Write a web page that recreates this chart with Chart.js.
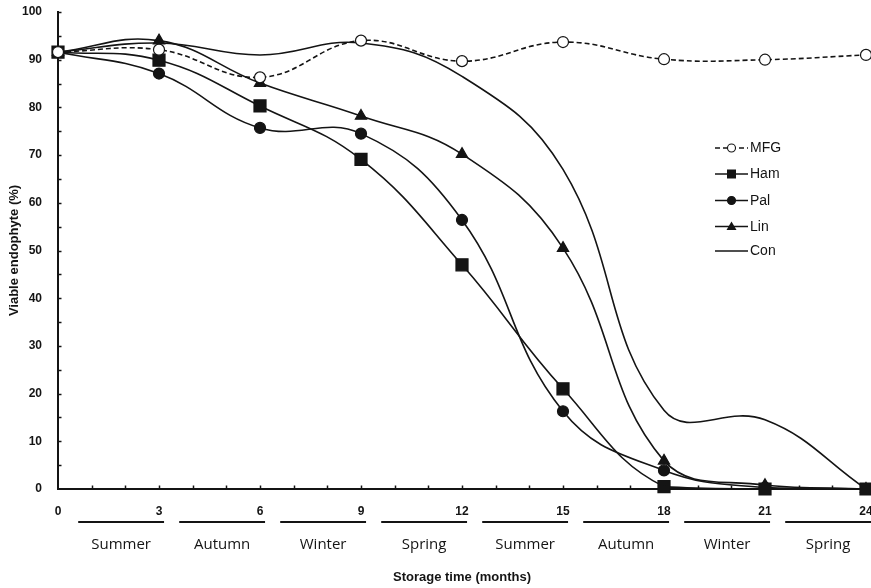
<!DOCTYPE html>
<html>
<head>
<meta charset="utf-8">
<script src="https://cdn.jsdelivr.net/npm/chart.js@4.4.1/dist/chart.umd.min.js"></script>
<style>
  html, body { margin: 0; padding: 0; background: #ffffff; }
  #wrap { width: 871px; height: 588px; position: relative; }
</style>
</head>
<body>
<div id="wrap"><canvas id="c" width="871" height="588"></canvas></div>
<script>
// ---- data ----
const months = [0, 3, 6, 9, 12, 15, 18, 21, 24];
const mfg = [91.6, 92.1, 86.3, 94.0, 89.7, 93.7, 90.1, 90.0, 91.0];
const ham = [91.6, 89.9, 80.3, 69.1, 47.0, 21.0, 0.5, 0.0, 0.0];
const pal = [91.6, 87.1, 75.7, 74.5, 56.4, 16.3, 3.9, 0.3, 0.0];
const lin = [91.6, 94.0, 85.1, 78.2, 70.2, 50.5, 5.9, 0.8, 0.0];
const con = [91.6, 93.5, 91.0, 93.5, 86.5, 67.0, 16.5, 14.5, 0.0];
const seriesNames = ['MFG', 'Ham', 'Pal', 'Lin', 'Con'];
const seasons = ['Summer', 'Autumn', 'Winter', 'Spring', 'Summer', 'Autumn', 'Winter', 'Spring'];
const xTickLabels = ['0', '3', '6', '9', '12', '15', '18', '21', '24'];
const yTickLabels = ['0', '10', '20', '30', '40', '50', '60', '70', '80', '90', '100'];

const INK = '#141414';
const pts = arr => months.map((m, i) => ({ x: m, y: arr[i] }));

const styles = [
  { data: mfg, pointStyle: 'circle', radius: 5.5, fill: '#ffffff', dash: [5, 3] },
  { data: ham, pointStyle: 'rect', radius: 8.5, fill: INK, dash: [] },
  { data: pal, pointStyle: 'circle', radius: 5.5, fill: INK, dash: [] },
  { data: lin, pointStyle: 'triangle', radius: 6.5, fill: INK, dash: [] },
  { data: con, pointStyle: false, radius: 0, fill: INK, dash: [] }
];

const datasets = styles.map((s, i) => ({
  label: seriesNames[i],
  data: pts(s.data),
  borderColor: INK,
  borderWidth: 1.6,
  borderDash: s.dash,
  tension: 0.42,
  pointStyle: s.pointStyle,
  pointRadius: s.radius,
  pointHoverRadius: s.radius,
  pointBackgroundColor: s.fill,
  pointBorderColor: INK,
  pointBorderWidth: 1.2,
  clip: false
}));

const decor = {
  id: 'decor',
  afterDraw(chart) {
    const ctx = chart.ctx;
    const xs = chart.scales.x, ys = chart.scales.y;
    const x0 = xs.getPixelForValue(0);
    const y0 = ys.getPixelForValue(0);
    ctx.save();
    ctx.strokeStyle = INK;
    ctx.lineWidth = 1.5;
    // inward ticks on y axis every 5
    for (let v = 5; v <= 100; v += 5) {
      const y = Math.round(ys.getPixelForValue(v)) + 0.5;
      ctx.beginPath(); ctx.moveTo(x0, y); ctx.lineTo(x0 + 3.5, y); ctx.stroke();
    }
    // inward ticks on x axis every month
    for (let m = 1; m <= 24; m++) {
      const x = Math.round(xs.getPixelForValue(m)) + 0.5;
      ctx.beginPath(); ctx.moveTo(x, y0); ctx.lineTo(x, y0 - 3.5); ctx.stroke();
    }
    // season bars and labels
    ctx.lineWidth = 2.2;
    ctx.fillStyle = INK;
    ctx.font = '15px "Open Sans", "Liberation Sans", sans-serif';
    ctx.textAlign = 'center';
    ctx.textBaseline = 'middle';
    seasons.forEach((s, k) => {
      const a = xs.getPixelForValue(3 * k + 0.6);
      const b = xs.getPixelForValue(3 * k + 3.15);
      ctx.beginPath(); ctx.moveTo(a, 522); ctx.lineTo(b, 522); ctx.stroke();
      ctx.fillText(s, (a + b) / 2, 545);
    });
    // legend
    const lx0 = 715, lx1 = 748, ly = [148, 174, 200.5, 226.5, 251];
    ctx.font = '14px "Liberation Sans", Arial, sans-serif';
    ctx.textAlign = 'left';
    styles.forEach((s, i) => {
      const y = ly[i];
      ctx.lineWidth = 1.6;
      ctx.setLineDash(s.dash);
      ctx.beginPath(); ctx.moveTo(lx0, y); ctx.lineTo(lx1, y); ctx.stroke();
      ctx.setLineDash([]);
      const cx = (lx0 + lx1) / 2;
      ctx.lineWidth = 1.1;
      if (s.pointStyle === 'circle') {
        ctx.beginPath(); ctx.arc(cx, y, 4, 0, Math.PI * 2);
        ctx.fillStyle = s.fill; ctx.fill(); ctx.stroke();
      } else if (s.pointStyle === 'rect') {
        ctx.fillStyle = INK; ctx.fillRect(cx - 4.5, y - 4.5, 9, 9);
      } else if (s.pointStyle === 'triangle') {
        ctx.fillStyle = INK; ctx.beginPath();
        ctx.moveTo(cx, y - 5); ctx.lineTo(cx + 5, y + 3.5); ctx.lineTo(cx - 5, y + 3.5); ctx.closePath(); ctx.fill();
      }
      ctx.fillStyle = INK;
      ctx.fillText(seriesNames[i], 750, y + 0.5);
    });
    ctx.restore();
  }
};

new Chart(document.getElementById('c'), {
  type: 'line',
  data: { datasets },
  options: {
    responsive: false,
    animation: false,
    events: [],
    layout: { autoPadding: false, padding: { left: 0, right: 5, top: 12, bottom: 0 } },
    plugins: { legend: { display: false }, tooltip: { enabled: false } },
    scales: {
      x: {
        type: 'linear', min: 0, max: 24,
        grid: { display: false },
        border: { display: true, color: INK, width: 2 },
        ticks: {
          stepSize: 1, autoSkip: false, maxRotation: 0, padding: 7,
          color: INK, font: { family: '"Liberation Sans", Arial, sans-serif', size: 12, weight: 'bold' },
          callback: v => (v % 3 === 0 ? xTickLabels[v / 3] : '')
        },
        title: {
          display: true, text: 'Storage time (months)', color: INK,
          font: { family: '"Liberation Sans", Arial, sans-serif', size: 13, weight: 'bold' },
          padding: { top: 0, bottom: 3 }
        },
        afterFit: s => { s.height = 99; s.paddingLeft = 0; s.paddingRight = 0; }
      },
      y: {
        min: 0, max: 100,
        grid: { display: false },
        border: { display: true, color: INK, width: 2 },
        ticks: {
          stepSize: 10, padding: 8,
          color: INK, font: { family: '"Liberation Sans", Arial, sans-serif', size: 12, weight: 'bold' },
          callback: v => yTickLabels[v / 10]
        },
        title: {
          display: true, text: 'Viable endophyte (%)', color: INK,
          font: { family: '"Liberation Sans", Arial, sans-serif', size: 13, weight: 'bold' },
          padding: { top: 7, bottom: 0 }
        },
        afterFit: s => { s.width = 58; s.paddingTop = 0; s.paddingBottom = 0; }
      }
    }
  },
  plugins: [decor]
});
</script>
</body>
</html>
